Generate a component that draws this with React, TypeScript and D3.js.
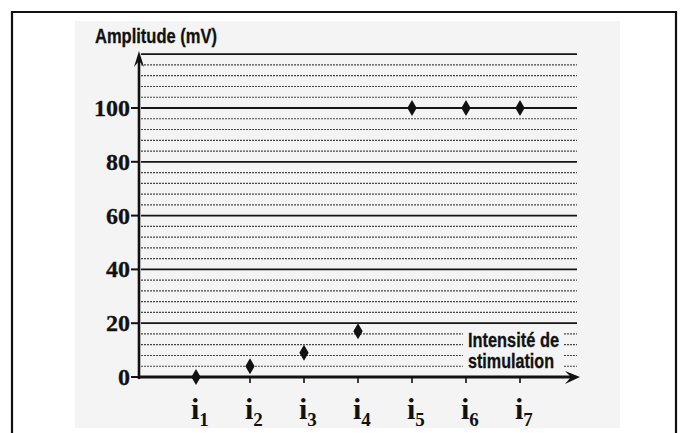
import React from "react";
import * as d3 from "d3";

const categories = ["1", "2", "3", "4", "5", "6", "7"];
const amplitudes = [0, 4, 9, 17, 100, 100, 100];
const yTickLabels = [0, 20, 40, 60, 80, 100];
const yTitle = "Amplitude (mV)";
const xTitle = ["Intensité de", "stimulation"];

const W = 682;
const H = 433;

export default function App() {
  const x = d3.scaleLinear().domain([0, 8]).range([142, 574]);
  const y = d3.scaleLinear().domain([0, 100]).range([377, 108]);
  const gridVals = d3.range(4, 121, 4);
  const axisX = 139;
  const gridEnd = 577;
  const diamond = d3.symbol().type(d3.symbolDiamond).size(75);
  const serif = "'Liberation Serif', 'DejaVu Serif', serif";
  const sans = "'Liberation Sans', Arial, sans-serif";

  return (
    <svg
      width={W}
      height={H}
      style={{ position: "absolute", left: 0, top: 0, background: "#fff" }}
    >
      {/* outer frame */}
      <path d={`M12,433 V12 H676 V433`} fill="none" stroke="#111" strokeWidth={2.2} />
      {/* scanned panel */}
      <rect x={75} y={21} width={545} height={407} fill="#f4f4f4" />

      {/* grid */}
      {gridVals.map((v) => {
        const major = v % 20 === 0;
        return (
          <line
            key={v}
            x1={axisX + 2}
            x2={gridEnd}
            y1={y(v)}
            y2={y(v)}
            stroke={major ? "#151515" : "#444"}
            strokeWidth={major ? 1.8 : 1.2}
            strokeDasharray={major ? undefined : "2,1"}
          />
        );
      })}

      {/* text box of x title */}
      <rect x={463} y={329} width={100} height={44} fill="#f4f4f4" />
      <text
        x={468}
        y={347}
        fontFamily={sans}
        fontWeight="bold"
        fontSize={20}
        textLength={91}
        lengthAdjust="spacingAndGlyphs"
        fill="#111"
        stroke="#111"
        strokeWidth={0.3}
      >
        {xTitle[0]}
      </text>
      <text
        x={468}
        y={368}
        fontFamily={sans}
        fontWeight="bold"
        fontSize={20}
        textLength={86}
        lengthAdjust="spacingAndGlyphs"
        fill="#111"
        stroke="#111"
        strokeWidth={0.3}
      >
        {xTitle[1]}
      </text>

      {/* axes */}
      <line x1={axisX} x2={axisX} y1={y(0) + 2} y2={58} stroke="#111" strokeWidth={2.6} />
      <path d={`M${axisX - 5},${67} L${axisX},${51} L${axisX + 5},${67} L${axisX},${61} Z`} fill="#111" />
      <line x1={axisX - 1} x2={572} y1={y(0)} y2={y(0)} stroke="#111" strokeWidth={3} />
      <path d={`M${565},${y(0) - 6} L${580},${y(0)} L${565},${y(0) + 7} L${571},${y(0)} Z`} fill="#111" />

      {/* y ticks + labels */}
      {yTickLabels.map((v) => (
        <g key={v}>
          <line x1={131} x2={axisX} y1={y(v)} y2={y(v)} stroke="#111" strokeWidth={2} />
          <text
            x={130}
            y={y(v) + 8}
            textAnchor="end"
            fontFamily={serif}
            fontWeight="bold"
            fontSize={24}
            fill="#111"
            stroke="#111"
            strokeWidth={0.3}
          >
            {v}
          </text>
        </g>
      ))}

      {/* y title */}
      <text
        x={95}
        y={43}
        fontFamily={sans}
        fontWeight="bold"
        fontSize={20}
        textLength={122}
        lengthAdjust="spacingAndGlyphs"
        fill="#111"
        stroke="#111"
        strokeWidth={0.3}
      >
        {yTitle}
      </text>

      {/* x ticks, labels and points */}
      {categories.map((c, i) => {
        const px = x(i + 1);
        return (
          <g key={c}>
            <line x1={px} x2={px} y1={y(0)} y2={y(0) + 6} stroke="#111" strokeWidth={1.6} />
            <text
              x={px - 5}
              y={419}
              fontFamily={serif}
              fontWeight="bold"
              fontSize={30}
              fill="#111"
            >
              i
              <tspan fontSize={19} dy={7}>
                {c}
              </tspan>
            </text>
            <path
              d={diamond() as string}
              transform={`translate(${px},${y(amplitudes[i])})`}
              fill="#111"
            />
          </g>
        );
      })}
    </svg>
  );
}
